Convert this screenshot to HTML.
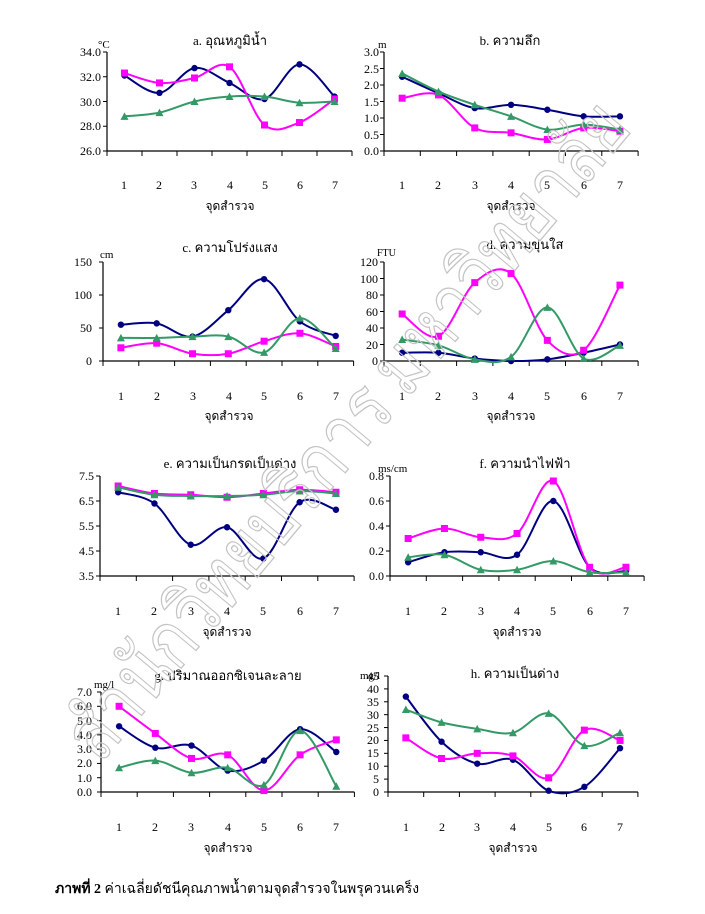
<!DOCTYPE html>
<html><head><meta charset="utf-8"><style>
html,body{margin:0;padding:0;background:#fff;width:705px;height:914px;overflow:hidden}
svg{display:block}
text{font-family:"Liberation Serif","Noto Serif CJK SC","Noto Sans CJK SC",serif;font-size:12px;fill:#000}
.t{text-anchor:middle}
.r{text-anchor:end}
.ti{font-size:13px}
.u{font-size:11px}
</style></head><body>
<svg id="s" width="705" height="914" viewBox="0 0 705 914" xmlns="http://www.w3.org/2000/svg">
<g id="charts"></g>
<!-- chart a -->
<text x="230" y="45" class="t ti">a. อุณหภูมิน้ำ</text>
<text x="98" y="48" class="u">°C</text>
<text x="101" y="56" class="r">34.0</text><text x="101" y="81" class="r">32.0</text><text x="101" y="106" class="r">30.0</text><text x="101" y="130" class="r">28.0</text><text x="101" y="155" class="r">26.0</text>
<text x="124" y="189" class="t">1</text><text x="159" y="189" class="t">2</text><text x="194" y="189" class="t">3</text><text x="230" y="189" class="t">4</text><text x="265" y="189" class="t">5</text><text x="300" y="189" class="t">6</text><text x="335" y="189" class="t">7</text>
<text x="230" y="210" class="t">จุดสำรวจ</text>
<!-- chart b -->
<text x="510" y="45" class="t ti">b. ความลึก</text>
<text x="378" y="48" class="u">m</text>
<text x="379" y="56" class="r">3.0</text><text x="379" y="73" class="r">2.5</text><text x="379" y="89" class="r">2.0</text><text x="379" y="106" class="r">1.5</text><text x="379" y="122" class="r">1.0</text><text x="379" y="139" class="r">0.5</text><text x="379" y="155" class="r">0.0</text>
<text x="402" y="189" class="t">1</text><text x="438" y="189" class="t">2</text><text x="475" y="189" class="t">3</text><text x="511" y="189" class="t">4</text><text x="547" y="189" class="t">5</text><text x="584" y="189" class="t">6</text><text x="620" y="189" class="t">7</text>
<text x="511" y="210" class="t">จุดสำรวจ</text>
<!-- chart c -->
<text x="230" y="252" class="t ti">c. ความโปร่งแสง</text>
<text x="100" y="258" class="u">cm</text>
<text x="92" y="266" class="r">150</text><text x="92" y="299" class="r">100</text><text x="92" y="332" class="r">50</text><text x="92" y="365" class="r">0</text>
<text x="121" y="400" class="t">1</text><text x="157" y="400" class="t">2</text><text x="193" y="400" class="t">3</text><text x="229" y="400" class="t">4</text><text x="264" y="400" class="t">5</text><text x="300" y="400" class="t">6</text><text x="336" y="400" class="t">7</text>
<text x="229" y="420" class="t">จุดสำรวจ</text>
<!-- chart d -->
<text x="525" y="249" class="t ti">d. ความขุ่นใส</text>
<text x="377" y="256" style="font-size:10px">FTU</text>
<text x="378" y="266" class="r">120</text><text x="378" y="283" class="r">100</text><text x="378" y="299" class="r">80</text><text x="378" y="316" class="r">60</text><text x="378" y="332" class="r">40</text><text x="378" y="349" class="r">20</text><text x="378" y="365" class="r">0</text>
<text x="402" y="400" class="t">1</text><text x="438" y="400" class="t">2</text><text x="475" y="400" class="t">3</text><text x="511" y="400" class="t">4</text><text x="547" y="400" class="t">5</text><text x="584" y="400" class="t">6</text><text x="620" y="400" class="t">7</text>
<text x="511" y="420" class="t">จุดสำรวจ</text>
<!-- chart e -->
<text x="230" y="468" class="t ti">e. ความเป็นกรดเป็นด่าง</text>
<text x="94" y="480" class="r">7.5</text><text x="94" y="505" class="r">6.5</text><text x="94" y="530" class="r">5.5</text><text x="94" y="555" class="r">4.5</text><text x="94" y="580" class="r">3.5</text>
<text x="118" y="615" class="t">1</text><text x="154" y="615" class="t">2</text><text x="191" y="615" class="t">3</text><text x="227" y="615" class="t">4</text><text x="263" y="615" class="t">5</text><text x="300" y="615" class="t">6</text><text x="336" y="615" class="t">7</text>
<text x="227" y="636" class="t">จุดสำรวจ</text>
<!-- chart f -->
<text x="525" y="468" class="t ti">f. ความนำไฟฟ้า</text>
<text x="378" y="472" class="u">ms/cm</text>
<text x="384" y="480" class="r">0.8</text><text x="384" y="505" class="r">0.6</text><text x="384" y="530" class="r">0.4</text><text x="384" y="555" class="r">0.2</text><text x="384" y="580" class="r">0.0</text>
<text x="408" y="615" class="t">1</text><text x="444" y="615" class="t">2</text><text x="481" y="615" class="t">3</text><text x="517" y="615" class="t">4</text><text x="553" y="615" class="t">5</text><text x="590" y="615" class="t">6</text><text x="626" y="615" class="t">7</text>
<text x="517" y="636" class="t">จุดสำรวจ</text>
<!-- chart g -->
<text x="228" y="680" class="t ti">g. ปริมาณออกซิเจนละลาย</text>
<text x="94" y="688" class="u">mg/l</text>
<text x="92" y="696" class="r">7.0</text><text x="92" y="710" class="r">6.0</text><text x="92" y="725" class="r">5.0</text><text x="92" y="739" class="r">4.0</text><text x="92" y="753" class="r">3.0</text><text x="92" y="767" class="r">2.0</text><text x="92" y="782" class="r">1.0</text><text x="92" y="796" class="r">0.0</text>
<text x="119" y="831" class="t">1</text><text x="155" y="831" class="t">2</text><text x="191" y="831" class="t">3</text><text x="228" y="831" class="t">4</text><text x="264" y="831" class="t">5</text><text x="300" y="831" class="t">6</text><text x="336" y="831" class="t">7</text>
<text x="228" y="852" class="t">จุดสำรวจ</text>
<!-- chart h -->
<text x="515" y="678" class="t ti">h. ความเป็นด่าง</text>
<text x="360" y="679" class="u">mg/l</text>
<text x="379" y="680" class="r">45</text><text x="379" y="693" class="r">40</text><text x="379" y="706" class="r">35</text><text x="379" y="719" class="r">30</text><text x="379" y="732" class="r">25</text><text x="379" y="744" class="r">20</text><text x="379" y="757" class="r">15</text><text x="379" y="770" class="r">10</text><text x="379" y="783" class="r">5</text><text x="379" y="796" class="r">0</text>
<text x="406" y="831" class="t">1</text><text x="442" y="831" class="t">2</text><text x="477" y="831" class="t">3</text><text x="513" y="831" class="t">4</text><text x="549" y="831" class="t">5</text><text x="584" y="831" class="t">6</text><text x="620" y="831" class="t">7</text>
<text x="513" y="852" class="t">จุดสำรวจ</text>
<!-- watermark -->
<text x="100" y="765" transform="rotate(-50 100 765)" textLength="830" lengthAdjust="spacingAndGlyphs" style="font-family:'Noto Sans CJK SC','WenQuanYi Zen Hei',sans-serif;font-size:78px;fill:none;stroke:#c4c4c4;stroke-width:1.3">สำนักวิทยบริการ มหาวิทยาลัย</text>
<!-- caption -->
<text x="55" y="893" style="font-size:14px"><tspan font-weight="bold">ภาพที่ 2</tspan>  ค่าเฉลี่ยดัชนีคุณภาพน้ำตามจุดสำรวจในพรุควนเคร็ง</text>
</svg>
<script>
var NS="http://www.w3.org/2000/svg",G=document.getElementById('charts');
function el(t,a){var e=document.createElementNS(NS,t);for(var k in a)e.setAttribute(k,a[k]);G.appendChild(e);return e;}
function smooth(p){var d="M"+p[0][0]+","+p[0][1];for(var i=0;i<p.length-1;i++){var p0=p[i-1]||p[i],p1=p[i],p2=p[i+1],p3=p[i+2]||p2;var t=0.5/3;
d+=" C"+(p1[0]+(p2[0]-p0[0])*t)+","+(p1[1]+(p2[1]-p0[1])*t)+" "+(p2[0]-(p3[0]-p1[0])*t)+","+(p2[1]-(p3[1]-p1[1])*t)+" "+p2[0]+","+p2[1];}return d;}
function chart(c){
 var n=7,x1=c.x0+c.w*n;
 el('line',{x1:c.x0,y1:c.yt,x2:c.x0,y2:c.yb,stroke:'#000','stroke-width':1.2});
 el('line',{x1:c.x0,y1:c.yb,x2:x1,y2:c.yb,stroke:'#000','stroke-width':1.2});
 for(var i=0;i<c.nt;i++){var y=c.yt+(c.yb-c.yt)*i/(c.nt-1);el('line',{x1:c.x0-4,y1:y,x2:c.x0,y2:y,stroke:'#000'});}
 for(var i=0;i<=n;i++){var x=c.x0+c.w*i;el('line',{x1:x,y1:c.yb,x2:x,y2:c.yb+5,stroke:'#000'});}
 var cols=['#000080','#ff00ff','#339966'];
 c.s.forEach(function(d,k){var pts=d.map(function(v,i){return [c.x0+c.w*(i+0.5),c.yb-(v-c.mn)/(c.mx-c.mn)*(c.yb-c.yt)];});
  el('path',{d:smooth(pts),fill:'none',stroke:cols[k],'stroke-width':2});
  pts.forEach(function(p){if(k==0)el('circle',{cx:p[0],cy:p[1],r:3.2,fill:cols[0]});
   else if(k==1)el('rect',{x:p[0]-3.5,y:p[1]-3.5,width:7,height:7,fill:cols[1]});
   else el('polygon',{points:(p[0]-4)+","+(p[1]+3.5)+" "+(p[0]+4)+","+(p[1]+3.5)+" "+p[0]+","+(p[1]-4),fill:cols[2]});});});
}
chart({x0:107,w:35,yt:52,yb:151,mn:26,mx:34,nt:5,s:[[32.1,30.7,32.7,31.5,30.2,33.0,30.4],[32.3,31.5,31.9,32.8,28.1,28.3,30.2],[28.8,29.1,30.0,30.4,30.4,29.9,30.0]]});
chart({x0:384,w:36.3,yt:52,yb:151,mn:0,mx:3,nt:7,s:[[2.25,1.75,1.3,1.4,1.25,1.05,1.05],[1.6,1.7,0.7,0.55,0.35,0.7,0.6],[2.35,1.8,1.4,1.05,0.65,0.8,0.65]]});
chart({x0:103,w:35.8,yt:262,yb:361,mn:0,mx:150,nt:4,s:[[55,57,37,77,124,60,38],[20,27,11,11,30,42,22],[35,35,37,37,13,65,19]]});
chart({x0:384,w:36.3,yt:262,yb:361,mn:0,mx:120,nt:7,s:[[10,10,3,0,2,10,20],[57,30,95,106,25,13,92],[26,19,2,5,65,3,19]]});
chart({x0:100,w:36.3,yt:476,yb:576,mn:3.5,mx:7.5,nt:5,s:[[6.85,6.4,4.75,5.45,4.2,6.45,6.15],[7.1,6.8,6.75,6.65,6.8,6.95,6.85],[7.05,6.75,6.7,6.7,6.75,6.9,6.8]]});
chart({x0:390,w:36.3,yt:476,yb:576,mn:0,mx:0.8,nt:5,s:[[0.11,0.19,0.19,0.17,0.6,0.07,0.04],[0.3,0.38,0.31,0.34,0.76,0.07,0.07],[0.15,0.17,0.05,0.05,0.12,0.03,0.03]]});
chart({x0:101,w:36.2,yt:692,yb:792,mn:0,mx:7,nt:8,s:[[4.6,3.1,3.25,1.5,2.2,4.4,2.8],[6.0,4.1,2.35,2.6,0.1,2.6,3.65],[1.7,2.2,1.35,1.7,0.5,4.3,0.4]]});
chart({x0:388,w:35.7,yt:676,yb:792,mn:0,mx:45,nt:10,s:[[37,19.5,11,12.5,0.5,2,17],[21,13,15,14,5.5,24,20],[32,27,24.5,23,30.5,18,23]]});
</script>
</body></html>
